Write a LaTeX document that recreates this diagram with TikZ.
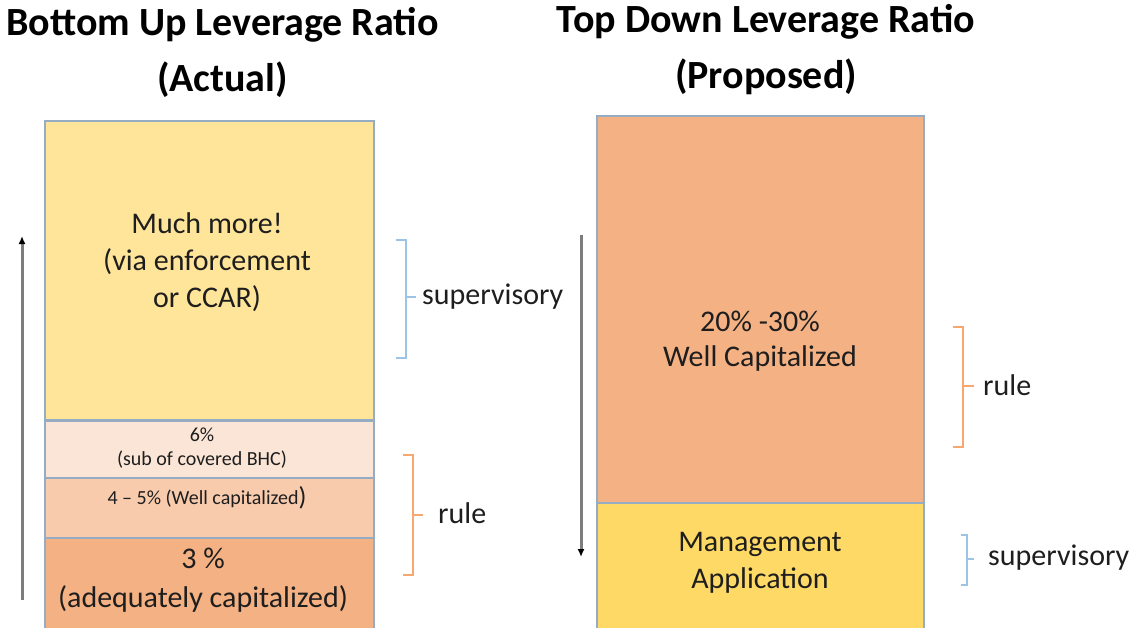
\documentclass[tikz,border=0pt]{standalone}
\usepackage{fontspec}
\setmainfont{Carlito}
\usepackage{xcolor}
\usepackage{tikz}
\usetikzlibrary{arrows.meta, positioning, calc}

\definecolor{edge}{RGB}{150,172,195}
\definecolor{lightyellow}{RGB}{255,229,153}
\definecolor{gold}{RGB}{255,217,102}
\definecolor{peachlight}{RGB}{251,229,214}
\definecolor{peachmid}{RGB}{248,203,173}
\definecolor{peachdark}{RGB}{244,177,131}
\definecolor{bracketblue}{RGB}{157,195,230}
\definecolor{bracketorange}{RGB}{247,168,112}
\definecolor{arrowgray}{RGB}{125,125,125}
\definecolor{ink}{RGB}{30,30,30}

\tikzset{
  box/.style={draw=edge, line width=1.6pt, rectangle, inner sep=0pt},
  label/.style={text=ink, align=center, inner sep=0pt},
  big/.style={font=\fontsize{30}{37}\selectfont},
  small/.style={font=\fontsize{20}{24}\selectfont},
  title/.style={align=center, inner sep=0pt, font=\fontsize{40}{56}\selectfont\bfseries},
  flow/.style={arrowgray, line width=3pt, -{Latex[black,length=8pt,width=7pt]}},
}

\begin{document}
\begin{tikzpicture}[x=1pt, y=-1pt]
    \useasboundingbox (0,0) rectangle (1141,627);
    \clip (0,0) rectangle (1141,627);

    % Titles
    \node[title] (tleft) at (222.5,52) {Bottom Up Leverage Ratio\\(Actual)};
    \node[title] (tright) at (766,50) {Top Down Leverage Ratio\\(Proposed)};

    % Left column
    \node[box, fill=lightyellow, minimum width=329pt, minimum height=299pt] (much) at (209.5,270.5) {};
    \node[box, fill=peachlight, minimum width=329pt, minimum height=57pt] (six) at (209.5,449.5) {};
    \node[box, fill=peachmid, minimum width=329pt, minimum height=60pt] (four) at (209.5,508) {};
    \node[box, fill=peachdark, minimum width=329pt, minimum height=102pt] (three) at (209.5,589) {};

    \node[label, big] (muchtxt) at (207,262) {Much more!\\(via enforcement\\or CCAR)};
    \node[label, small] (sixtxt) at (202,448) {6\%\\(sub of covered BHC)};
    \node[label, small] (fourtxt) at (207,498) {4 -- 5\% (Well capitalized\raisebox{-1pt}{\fontsize{26}{26}\selectfont)}};
    \node[label, font=\fontsize{30}{39}\selectfont] (threetxt) at (203,580) {3 \%\\(adequately capitalized)};

    % Right column
    \node[box, fill=peachdark, minimum width=327pt, minimum height=387pt] (wellcap) at (760.5,309.5) {};
    \node[box, fill=gold, minimum width=327pt, minimum height=137pt] (mgmt) at (760.5,571.5) {};

    \node[label, font=\fontsize{30}{35}\selectfont] (wellcaptxt) at (760,341) {20\% -30\%\\Well Capitalized};
    \node[label, big] (mgmttxt) at (760,563) {Management\\Application};

    % Arrows
    \coordinate (upfrom) at (22,600);
    \coordinate (upto) at (22,236);
    \draw[flow] (upfrom) -- (upto);
    \coordinate (downfrom) at (581,235);
    \coordinate (downto) at (581,557);
    \draw[flow] (downfrom) -- (downto);

    % Brackets
    \draw[bracketblue, line width=1.4pt] (396,240) -- (406,240) -- (406,358) -- (396,358);
    \draw[bracketblue, line width=1.4pt] (406,297) -- (416,297);
    \node[label, big, anchor=west] (supleft) at (422,297) {supervisory};

    \draw[bracketorange, line width=1.4pt] (403,455) -- (413,455) -- (413,575) -- (403,575);
    \draw[bracketorange, line width=1.4pt] (413,515) -- (423,515);
    \node[label, big, anchor=west] (ruleleft) at (438,513) {rule};

    \draw[bracketorange, line width=1.4pt] (953,327) -- (963,327) -- (963,447) -- (953,447);
    \draw[bracketorange, line width=1.4pt] (963,386) -- (974,386);
    \node[label, big, anchor=west] (ruleright) at (983,385) {rule};

    \draw[bracketblue, line width=1.4pt] (961,535) -- (967,535) -- (967,585) -- (961,585);
    \draw[bracketblue, line width=1.4pt] (967,559) -- (974,559);
    \node[label, big, anchor=west] (supright) at (988,558) {supervisory};
\end{tikzpicture}
\end{document}
